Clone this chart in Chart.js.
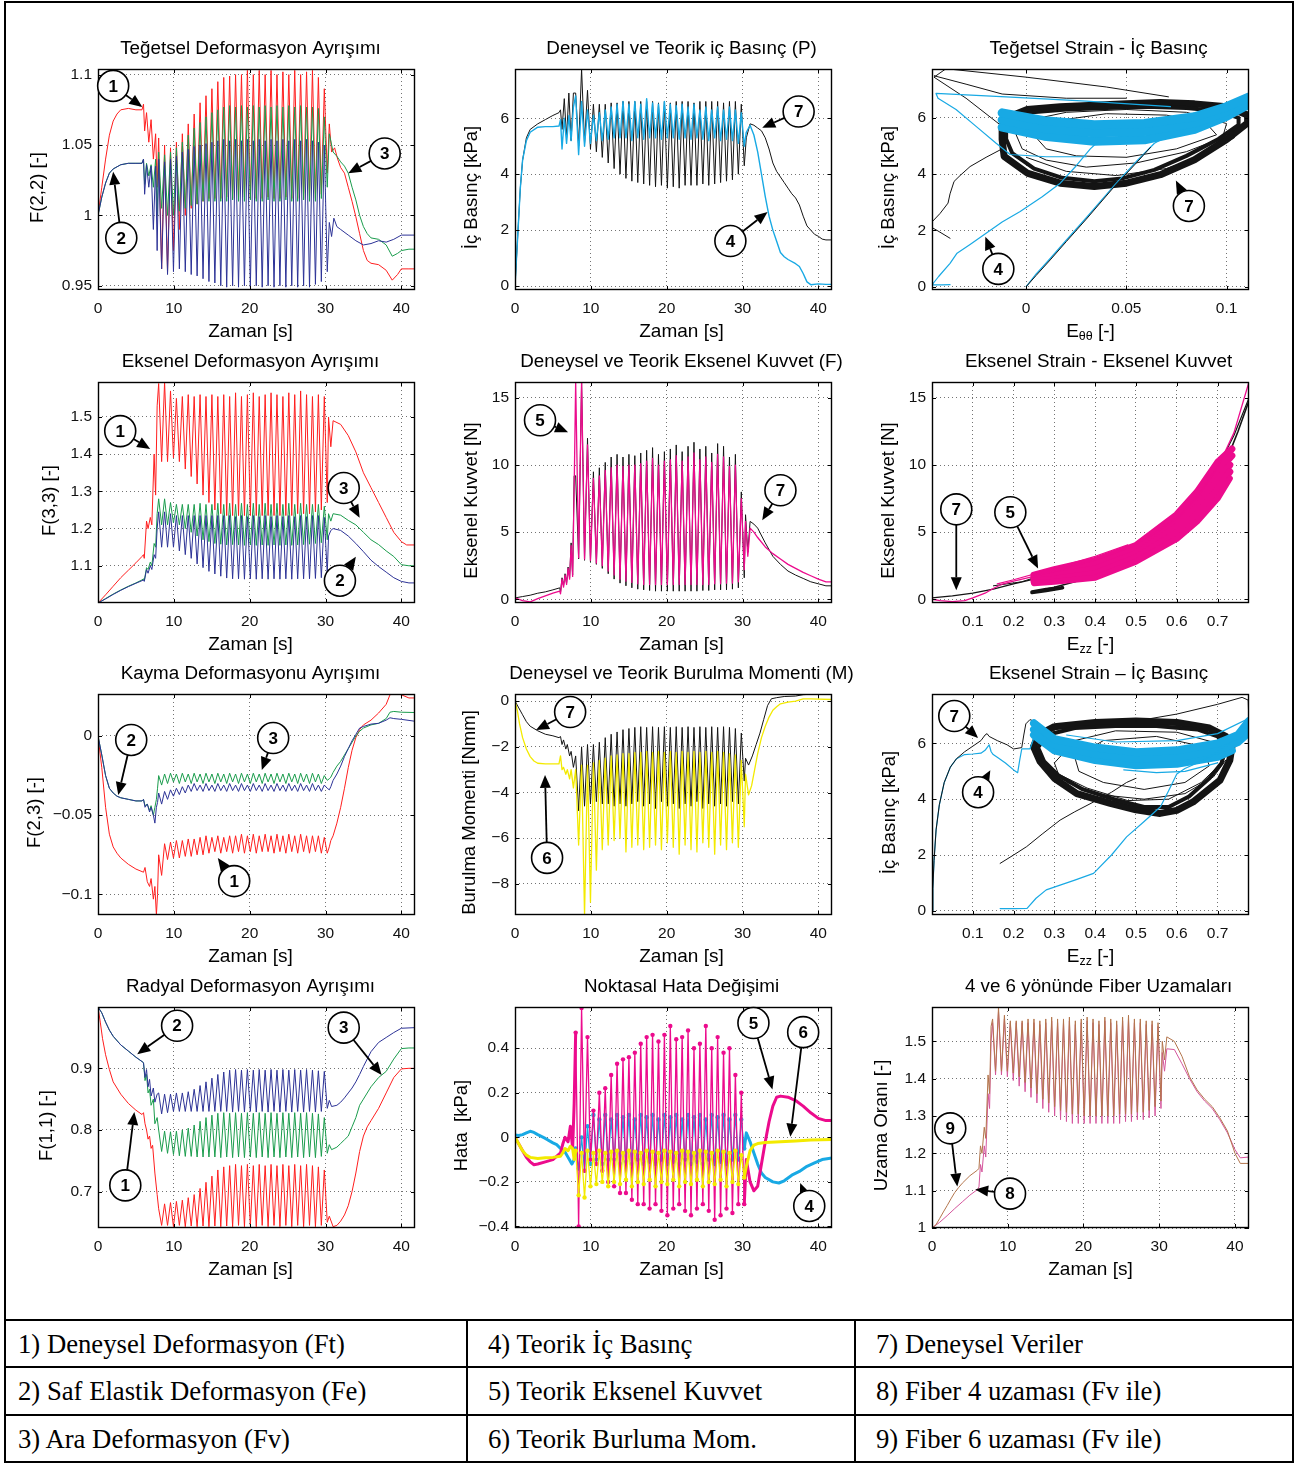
<!DOCTYPE html>
<html><head><meta charset="utf-8"><title>Deformasyon Ayrışımı</title>
<script src="https://cdn.jsdelivr.net/npm/chart.js@4.4.1/dist/chart.umd.min.js"></script>
<style>
html,body{margin:0;padding:0;background:#fff;}
#page{position:relative;width:1295px;height:1464px;overflow:hidden;background:#fff;}
#page canvas{position:absolute;}
.ln{position:absolute;background:#000;}
.cell{position:absolute;font-family:"Liberation Serif","Times New Roman",serif;font-size:26.7px;line-height:32px;height:32px;white-space:nowrap;color:#000;}
</style></head><body>
<div id="page">
<div class="ln" style="left:4px;top:1px;width:2px;height:1462px"></div>
<div class="ln" style="left:1292px;top:1px;width:2px;height:1462px"></div>
<div class="ln" style="left:4px;top:1px;width:1290px;height:2px"></div>
<div class="ln" style="left:4px;top:1461px;width:1290px;height:2px"></div>
<div class="ln" style="left:4px;top:1319px;width:1290px;height:2px"></div>
<div class="ln" style="left:4px;top:1366px;width:1290px;height:2px"></div>
<div class="ln" style="left:4px;top:1414px;width:1290px;height:2px"></div>
<div class="ln" style="left:466px;top:1319px;width:2px;height:144px"></div>
<div class="ln" style="left:854px;top:1319px;width:2px;height:144px"></div>
<div class="cell" style="left:18px;top:1328px">1) Deneysel Deformasyon (Ft)</div>
<div class="cell" style="left:488px;top:1328px">4) Teorik İç Basınç</div>
<div class="cell" style="left:876px;top:1328px">7) Deneysel Veriler</div>
<div class="cell" style="left:18px;top:1375px">2) Saf Elastik Deformasyon (Fe)</div>
<div class="cell" style="left:488px;top:1375px">5) Teorik Eksenel Kuvvet</div>
<div class="cell" style="left:876px;top:1375px">8) Fiber 4 uzaması (Fv ile)</div>
<div class="cell" style="left:18px;top:1423px">3) Ara Deformasyon (Fv)</div>
<div class="cell" style="left:488px;top:1423px">6) Teorik Burluma Mom.</div>
<div class="cell" style="left:876px;top:1423px">9) Fiber 6 uzaması (Fv ile)</div>
</div>
<script>
// ---------- shared time axis of the cyclic phase (peak, trough, peak, ...) ----------
const tOsc = [8.00,8.39,8.78,9.17,9.56,9.95,10.34,10.73,11.12,11.51,
 11.90,12.29,12.68,13.07,13.46,13.85,14.24,14.63,15.02,15.41,
 15.80,16.19,16.58,16.97,17.36,17.75,18.14,18.53,18.92,19.31,
 19.70,20.09,20.48,20.87,21.26,21.65,22.04,22.43,22.82,23.21,
 23.60,23.99,24.38,24.77,25.16,25.55,25.94,26.33,26.72,27.11,
 27.50,27.89,28.28,28.67,29.06,29.45,29.84,30.23];
const timeTicks = [0,10,20,30,40];

// ---------- Panel 1: F(2,2) ----------
const f22FtPre = [[0,1.0],[0.5,1.02],[1,1.04],[1.5,1.057],[2,1.067],[2.5,1.072],[3,1.075],[4,1.076],[5,1.075],[5.8,1.075],[6.0,1.079],[6.15,1.06],[6.4,1.073],[6.7,1.052],[7.0,1.068],[7.3,1.04],[7.6,1.058],[7.8,1.02]];
const f22FtOsc = [1.055,0.962, 1.05,0.96, 1.048,0.975, 1.052,0.99, 1.058,1.0,
 1.065,1.005, 1.072,1.008, 1.08,1.01, 1.085,1.012, 1.09,1.012,
 1.095,1.012, 1.098,1.013, 1.099,1.012, 1.1,1.012, 1.1,1.013,
 1.103,1.012, 1.1,1.012, 1.103,1.012, 1.1,1.013, 1.103,1.012,
 1.1,1.012, 1.102,1.013, 1.1,1.012, 1.103,1.012, 1.1,1.012,
 1.102,1.013, 1.103,1.012, 1.098,1.015, 1.09,1.03];
const f22FtPost = [[30.5,1.065],[30.8,1.045],[31.2,1.048],[31.6,1.04],[32,1.034],[32.5,1.03],[33,1.02],[33.5,1.01],[34,0.999],[34.5,0.987],[35,0.975],[35.5,0.968],[36,0.966],[37,0.965],[38,0.961],[38.8,0.954],[39.5,0.958],[40,0.962],[41,0.962],[41.8,0.962]];
const f22FvPre = [[0,1.0],[0.5,1.013],[1,1.023],[1.5,1.03],[2,1.033],[3,1.036],[4,1.037],[5,1.037],[5.8,1.037],[6.0,1.04],[6.15,1.022],[6.4,1.037],[6.7,1.028],[7.0,1.036],[7.3,1.02],[7.6,1.04],[7.8,1.0]];
const f22FvOsc = [1.045,1.005, 1.043,1.0, 1.045,1.0, 1.048,1.003, 1.052,1.005,
 1.057,1.007, 1.062,1.008, 1.066,1.01, 1.07,1.01, 1.073,1.01,
 1.075,1.01, 1.077,1.01, 1.078,1.011, 1.077,1.01, 1.078,1.01,
 1.077,1.011, 1.078,1.01, 1.077,1.01, 1.078,1.011, 1.077,1.01,
 1.078,1.01, 1.077,1.011, 1.078,1.01, 1.077,1.01, 1.078,1.011,
 1.077,1.01, 1.077,1.01, 1.076,1.012, 1.07,1.02];
const f22FvPost = [[30.5,1.058],[31,1.045],[31.5,1.042],[32,1.038],[32.5,1.035],[33,1.03],[33.5,1.02],[34,1.011],[34.5,1.0],[35,0.992],[35.5,0.987],[36,0.984],[37,0.983],[38,0.979],[38.8,0.971],[39.5,0.973],[40,0.975],[41,0.976],[41.8,0.976]];
const f22FePre = [[0,1.0],[0.5,1.013],[1,1.023],[1.5,1.03],[2,1.033],[3,1.036],[4,1.037],[5,1.037],[5.8,1.037],[6.0,1.04],[6.15,1.015],[6.4,1.036],[6.7,1.02],[7.0,1.035],[7.3,0.99],[7.6,1.035],[7.8,0.975]];
const f22FeOsc = [1.04,0.962, 1.038,0.958, 1.04,0.96, 1.042,0.962, 1.045,0.96,
 1.047,0.958, 1.049,0.957, 1.05,0.955, 1.051,0.953, 1.052,0.952,
 1.053,0.95, 1.054,0.949, 1.053,0.95, 1.054,0.949, 1.053,0.95,
 1.054,0.949, 1.053,0.95, 1.054,0.949, 1.053,0.95, 1.054,0.949,
 1.053,0.95, 1.054,0.949, 1.053,0.95, 1.054,0.949, 1.053,0.95,
 1.054,0.949, 1.053,0.951, 1.052,0.953, 1.05,0.96];
const f22FePost = [[30.5,0.995],[30.8,0.985],[31.1,0.998],[31.5,0.992],[32,0.99],[33,0.986],[34,0.982],[35,0.979],[36,0.98],[37,0.982],[38,0.981],[39,0.983],[40,0.986],[41.8,0.986]];
const f22Ticks = [0.95,1,1.05,1.1];

// ---------- Panel 2: pressure ----------
const pBlackPre = [[0,0],[0.3,1.5],[0.7,3.5],[1,4.5],[1.5,5.3],[2,5.6],[3,5.8],[4,5.95],[5,6.1],[5.8,6.2],[6.0,6.3],[6.2,5.6],[6.5,6.7],[6.8,5.3],[7.1,6.9],[7.4,5.2],[7.7,6.9]];
const pBlackOsc = [6.9,5.0, 7.76,5.1, 7.0,4.9, 6.5,4.8, 6.5,4.6,
 6.5,4.4, 6.55,4.2, 6.55,4.0, 6.6,3.85, 6.6,3.75,
 6.6,3.7, 6.6,3.65, 6.6,3.6, 6.6,3.55, 6.55,3.6,
 6.6,3.5, 6.55,3.55, 6.6,3.5, 6.6,3.6, 6.6,3.6,
 6.55,3.6, 6.6,3.65, 6.6,3.6, 6.6,3.65, 6.6,3.7,
 6.55,3.75, 6.6,3.8, 6.6,4.0, 6.5,4.3];
const pBlackPost = [[30.5,5.3],[31,5.8],[31.5,5.75],[32,5.65],[32.5,5.55],[33,5.3],[33.5,4.9],[34,4.4],[34.5,4.1],[35,3.9],[35.5,3.7],[36,3.5],[36.5,3.3],[37,3.15],[37.5,2.9],[38,2.5],[38.5,2.15],[39,2.0],[39.5,1.85],[40,1.78],[40.5,1.68],[41,1.65],[41.8,1.65]];
const pCyanPre = [[0,0],[0.3,1.5],[0.7,3.5],[1,4.5],[1.5,5.2],[2,5.5],[3,5.68],[4,5.7],[5,5.7],[5.8,5.72],[6.0,5.95],[6.2,4.9],[6.5,6.0],[6.8,5.1],[7.1,6.1],[7.4,5.2],[7.7,6.4]];
const pCyanOsc = [6.8,4.7, 6.6,5.0, 6.3,5.1, 6.1,5.2, 6.2,5.2,
 6.3,5.25, 6.4,5.3, 6.5,5.3, 6.6,5.3, 6.5,5.2,
 6.6,5.3, 6.5,5.25, 6.7,5.3, 6.55,5.3, 6.5,5.25,
 6.6,5.3, 6.5,5.3, 6.45,5.25, 6.5,5.3, 6.4,5.25,
 6.5,5.3, 6.3,5.25, 6.4,5.2, 6.3,5.3, 6.4,5.2,
 6.3,5.25, 6.4,5.2, 6.3,5.1, 6.2,5.0];
const pCyanPost = [[30.5,5.5],[31,5.75],[31.5,5.4],[32,4.8],[32.5,4.0],[33,3.2],[33.5,2.5],[34,2.0],[34.5,1.6],[35,1.2],[35.5,1.05],[36,0.95],[37,0.8],[37.5,0.7],[38,0.45],[38.5,0.15],[39,0.05],[40,0.08],[41,0.06],[41.8,0.06]];
const pTicks = [0,2,4,6];

// ---------- Panel 3: E_theta vs P (loops) ----------
const thBlkRing = [[-0.012,5.7],[-0.01,6.0],[0.0005,6.3],[0.017,6.4],[0.034,6.45],[0.05,6.5],[0.067,6.55],[0.084,6.5],[0.1,6.4],[0.1105,6.1],[0.1105,5.82],[0.1,5.23],[0.084,4.51],[0.067,3.98],[0.05,3.68],[0.034,3.56],[0.017,3.68],[0.0005,4.04],[-0.011,4.63],[-0.012,5.23],[-0.012,5.7]];
const thBlkRing2 = [[-0.01,5.6],[-0.007,5.95],[0.003,6.2],[0.02,6.3],[0.04,6.35],[0.06,6.4],[0.08,6.35],[0.096,6.25],[0.106,6.0],[0.106,5.75],[0.096,5.25],[0.08,4.65],[0.064,4.15],[0.048,3.85],[0.034,3.75],[0.018,3.87],[0.004,4.2],[-0.007,4.75],[-0.01,5.25],[-0.01,5.6]];
const thBlkIn1 = [[-0.005,5.4],[0.0,5.9],[0.02,6.2],[0.05,6.3],[0.08,6.2],[0.1,5.8],[0.098,5.3],[0.08,4.8],[0.055,4.4],[0.03,4.25],[0.01,4.5],[-0.002,4.9],[-0.005,5.4]];
const thBlkIn2 = [[0.005,5.3],[0.015,5.9],[0.04,6.15],[0.07,6.1],[0.09,5.8],[0.095,5.4],[0.075,4.9],[0.05,4.6],[0.025,4.65],[0.01,4.9],[0.005,5.3]];
const thBlkIn3 = [[0.0,4.6],[0.02,4.1],[0.045,3.95],[0.07,4.2],[0.09,4.7],[0.104,5.3]];
const thBlkEarly1 = [[-0.012,5.7],[-0.03,6.7],[-0.046,7.45],[-0.04,7.75],[0.0,7.45],[0.04,7.1],[0.071,6.75]];
const thBlkEarly2 = [[-0.046,7.5],[-0.03,7.2],[-0.012,6.85],[0.02,6.7],[0.05,6.7]];
const thBlkLoad = [[0,0],[0.005,0.4],[0.012,0.95],[0.02,1.6],[0.03,2.4],[0.044,3.56],[0.055,4.4],[0.062,4.95]];
const thBlkUnload1 = [[-0.012,4.9],[-0.02,4.6],[-0.028,4.27],[-0.033,3.95],[-0.036,3.74],[-0.038,3.3],[-0.039,2.97],[-0.043,2.6],[-0.047,2.3]];
const thBlkUnload2 = [[-0.047,2.1],[-0.0445,2.0],[-0.041,1.85],[-0.038,1.72]];
const thCyLoad = [[0,0],[0.005,0.45],[0.012,1.0],[0.02,1.65],[0.03,2.45],[0.044,3.6],[0.055,4.45],[0.064,5.1],[0.072,5.4]];
const thCyEarly = [[0.072,6.4],[0.03,6.6],[-0.01,6.75],[-0.045,6.87],[-0.044,6.7],[-0.035,6.3],[-0.025,5.7],[-0.015,5.1],[-0.008,4.7],[0.01,4.62],[0.03,4.62]];
const thCyArcA = [[-0.012,5.67],[0.009,5.35],[0.034,5.17],[0.059,5.22],[0.084,5.59],[0.1,6.06],[0.111,6.48]];
const thCyArcB = [[-0.012,5.93],[0.009,5.62],[0.034,5.47],[0.059,5.52],[0.084,5.82],[0.1,6.24],[0.111,6.62]];
const thCyArcC = [[-0.012,6.18],[0.009,5.9],[0.034,5.76],[0.059,5.8],[0.084,6.04],[0.1,6.4],[0.111,6.74]];
const thCyUnload = [[0.035,5.1],[0.032,4.9],[0.025,4.3],[0.017,3.68],[0.008,3.2],[-0.003,2.67],[-0.012,2.3],[-0.02,1.9],[-0.028,1.5],[-0.0345,1.19],[-0.038,0.83],[-0.0437,0.36],[-0.047,0.06],[-0.042,0.06],[-0.038,0.07]];
const thXTicks = [0,0.05,0.1];

// ---------- Panel 4: F(3,3) ----------
const f33FtPre = [[0,1.0],[1,1.022],[2,1.045],[3,1.068],[4,1.088],[5,1.108],[5.8,1.125],[6.0,1.13],[6.1,1.12],[6.4,1.22],[6.6,1.2],[6.9,1.23],[7.1,1.21],[7.4,1.4],[7.6,1.29],[7.8,1.53]];
const f33FtOsc = [1.59,1.38, 1.594,1.38, 1.57,1.39, 1.55,1.38, 1.555,1.36,
 1.56,1.34, 1.555,1.32, 1.56,1.29, 1.555,1.27, 1.56,1.25,
 1.555,1.24, 1.56,1.235, 1.555,1.235, 1.565,1.235, 1.555,1.235,
 1.56,1.235, 1.565,1.235, 1.555,1.235, 1.56,1.235, 1.565,1.235,
 1.56,1.235, 1.555,1.235, 1.565,1.235, 1.56,1.24, 1.57,1.24,
 1.56,1.24, 1.555,1.245, 1.56,1.25, 1.555,1.27];
const f33FtPost = [[30.4,1.5],[30.7,1.42],[31,1.49],[32,1.48],[33,1.45],[34,1.406],[35,1.35],[36,1.31],[37,1.27],[38,1.23],[38.5,1.21],[39,1.19],[40,1.165],[40.7,1.156],[41.8,1.156]];
const f33FvPre = [[0,1.0],[1,1.012],[2,1.024],[3,1.035],[4,1.045],[5,1.054],[5.8,1.062],[6.0,1.065],[6.1,1.06],[6.4,1.095],[6.6,1.09],[6.9,1.11],[7.1,1.1],[7.4,1.16],[7.6,1.15],[7.8,1.24]];
const f33FvOsc = [1.28,1.21, 1.28,1.21, 1.27,1.215, 1.265,1.21, 1.265,1.2,
 1.265,1.19, 1.265,1.18, 1.268,1.17, 1.265,1.165, 1.265,1.16,
 1.268,1.158, 1.265,1.156, 1.268,1.157, 1.265,1.156, 1.268,1.155,
 1.265,1.156, 1.268,1.155, 1.265,1.156, 1.268,1.155, 1.265,1.156,
 1.268,1.155, 1.265,1.156, 1.268,1.155, 1.265,1.156, 1.268,1.157,
 1.265,1.158, 1.265,1.16, 1.265,1.162, 1.26,1.17];
const f33FvPost = [[30.4,1.24],[30.7,1.22],[31,1.24],[32,1.236],[33,1.222],[34,1.21],[35,1.19],[36,1.17],[37,1.157],[38,1.14],[39,1.125],[40,1.103],[41,1.1],[41.8,1.1]];
const f33FePre = [[0,1.0],[1,1.011],[2,1.023],[3,1.034],[4,1.044],[5,1.053],[5.8,1.06],[6.0,1.062],[6.1,1.058],[6.4,1.09],[6.6,1.08],[6.9,1.1],[7.1,1.09],[7.4,1.13],[7.6,1.12],[7.8,1.2]];
const f33FeOsc = [1.245,1.15, 1.245,1.15, 1.24,1.15, 1.235,1.14, 1.235,1.13,
 1.235,1.12, 1.235,1.105, 1.235,1.095, 1.235,1.085, 1.235,1.078,
 1.235,1.072, 1.235,1.067, 1.235,1.065, 1.232,1.065, 1.235,1.064,
 1.232,1.065, 1.235,1.064, 1.232,1.065, 1.235,1.064, 1.232,1.065,
 1.235,1.064, 1.232,1.065, 1.235,1.064, 1.232,1.065, 1.235,1.065,
 1.232,1.065, 1.235,1.066, 1.235,1.068, 1.23,1.08];
const f33FePost = [[30.4,1.18],[30.7,1.195],[31,1.2],[32,1.195],[33,1.18],[34,1.16],[35,1.138],[36,1.115],[37,1.098],[38,1.083],[39,1.068],[40,1.058],[41,1.054],[41.8,1.054]];
const f33Ticks = [1.1,1.2,1.3,1.4,1.5];

// ---------- Panel 5: axial force ----------
const fBlackPre = [[0,0.1],[1,0.2],[2,0.3],[3,0.45],[4,0.55],[5,0.7],[5.9,0.85],[6.0,0.5],[6.2,1.6],[6.4,1.0],[6.6,1.9],[6.8,1.2],[7.0,2.4],[7.2,1.6],[7.4,4.2],[7.6,1.8],[7.8,9.2]];
const fBlackOsc = [9.2,3.0, 16.2,2.9, 12.0,2.8, 9.5,2.6, 9.8,2.3,
 10.2,1.9, 10.6,1.5, 10.8,1.2, 10.6,1.0, 10.8,0.85,
 10.7,0.75, 10.9,0.7, 11.1,0.65, 11.3,0.6, 10.8,0.6,
 11.0,0.6, 11.2,0.6, 11.5,0.6, 11.0,0.6, 11.4,0.6,
 11.7,0.6, 11.2,0.65, 11.4,0.65, 10.9,0.7, 11.6,0.7,
 11.4,0.7, 10.6,0.75, 10.8,0.85, 8.0,1.6];
const fBlackPost = [[30.4,6.3],[30.7,3.5],[31,5.8],[31.5,5.6],[32,5.3],[33,4.2],[34,3.2],[35,2.6],[36,2.1],[37,1.8],[38,1.55],[39,1.3],[40,1.15],[41,1.0],[41.8,1.0]];
const fMagPre = [[0,0.1],[1,-0.1],[2,-0.2],[3,0.05],[4,0.25],[5,0.45],[5.9,0.6],[6.0,0.4],[6.2,1.5],[6.4,0.9],[6.6,1.8],[6.8,1.1],[7.0,2.3],[7.2,1.5],[7.4,4.0],[7.6,1.7],[7.8,8.2]];
const fMagOsc = [16.2,3.1, 16.2,3.0, 11.5,2.9, 9.0,2.7, 9.2,2.5,
 9.6,2.1, 9.8,1.8, 10.0,1.5, 9.9,1.35, 10.0,1.25,
 10.0,1.15, 10.1,1.1, 10.3,1.1, 10.5,1.1, 10.0,1.1,
 10.3,1.1, 10.4,1.1, 10.7,1.1, 10.3,1.1, 10.6,1.1,
 10.9,1.1, 10.4,1.1, 10.6,1.1, 10.2,1.15, 10.8,1.15,
 10.6,1.2, 9.9,1.2, 10.0,1.3, 7.5,2.2];
const fMagPost = [[30.4,5.8],[30.7,3.2],[31,5.3],[31.5,5.0],[32,4.6],[33,3.9],[34,3.4],[35,3.0],[36,2.6],[37,2.3],[38,2.0],[39,1.75],[40,1.5],[41,1.3],[41.8,1.3]];
const fTicks = [0,5,10,15];

// ---------- Panel 6: E_zz vs axial force ----------
const ezfBlkLoad = [[0,0.1],[0.05,0.25],[0.1,0.45],[0.15,0.75],[0.2,1.15],[0.25,1.5],[0.3,1.95],[0.35,2.4],[0.4,2.9],[0.45,3.5],[0.5,4.15],[0.55,5.0],[0.6,6.1],[0.65,7.6],[0.7,9.8],[0.74,12.2],[0.777,15.0]];
const ezfBlkLower = [[0.777,14.8],[0.75,12.5],[0.72,10.2],[0.7,9.0],[0.65,6.9],[0.6,5.3],[0.55,4.0],[0.5,3.0],[0.45,2.3],[0.4,1.8],[0.35,1.3],[0.3,0.9],[0.25,0.55]];
const ezfBlkPatch = [[0.245,0.5],[0.28,0.65],[0.32,0.85],[0.28,0.72],[0.245,0.55]];
const ezfBlkEarly = [[0.15,1.0],[0.22,1.3],[0.3,2.1],[0.4,3.0],[0.48,3.9]];
const ezfMagLoad = [[0,0],[0.02,-0.1],[0.05,-0.18],[0.08,-0.1],[0.1,0.1],[0.13,0.45],[0.15,0.8],[0.17,1.1],[0.2,1.35],[0.25,1.7],[0.3,2.1],[0.35,2.5],[0.4,2.95],[0.45,3.5],[0.5,4.1],[0.55,5.0],[0.6,6.0],[0.65,7.6],[0.7,9.8],[0.74,12.4],[0.777,16.2]];
const ezfMagEarly = [[0.16,1.15],[0.2,1.45],[0.3,2.3],[0.4,3.2],[0.48,4.05]];
const ezfMag1 = [[0.25,1.8],[0.3,2.2],[0.4,2.9],[0.5,4.0],[0.6,6.3],[0.65,8.0],[0.7,10.2],[0.735,11.2]];
const ezfMag2 = [[0.25,1.65],[0.3,2.0],[0.4,2.6],[0.5,3.7],[0.6,5.85],[0.65,7.45],[0.7,9.5],[0.735,10.7]];
const ezfMag3 = [[0.25,1.5],[0.3,1.75],[0.4,2.25],[0.5,3.4],[0.6,5.4],[0.65,6.9],[0.7,8.85],[0.73,10.0]];
const ezfMag4 = [[0.25,1.35],[0.3,1.5],[0.4,1.9],[0.5,3.1],[0.6,4.95],[0.65,6.35],[0.7,8.2],[0.73,9.5]];
const ezfMag5 = [[0.25,1.2],[0.3,1.3],[0.4,1.6],[0.5,2.8],[0.6,4.5],[0.65,5.8],[0.7,7.5],[0.73,9.0]];
const ezTicks = [0.1,0.2,0.3,0.4,0.5,0.6,0.7];

// ---------- Panel 7: F(2,3) ----------
const f23FtPre = [[0,0],[0.5,-0.02],[1,-0.045],[1.5,-0.062],[2,-0.07],[2.5,-0.074],[3,-0.077],[4,-0.081],[5,-0.084],[6,-0.086],[6.2,-0.083],[6.5,-0.092],[6.8,-0.095],[7.0,-0.09],[7.3,-0.103],[7.5,-0.095],[7.7,-0.113],[7.85,-0.1]];
const f23FtOsc = [-0.075,-0.088, -0.068,-0.078, -0.067,-0.077, -0.066,-0.077, -0.066,-0.076,
 -0.065,-0.076, -0.065,-0.075, -0.064,-0.075, -0.063,-0.074, -0.064,-0.073,
 -0.063,-0.074, -0.064,-0.073, -0.063,-0.074, -0.063,-0.073, -0.062,-0.074,
 -0.063,-0.073, -0.062,-0.074, -0.063,-0.073, -0.062,-0.073, -0.063,-0.074,
 -0.062,-0.073, -0.063,-0.074, -0.062,-0.073, -0.063,-0.074, -0.062,-0.073,
 -0.063,-0.074, -0.063,-0.073, -0.063,-0.074, -0.064,-0.074];
const f23FtPost = [[30.5,-0.07],[30.7,-0.066],[31,-0.063],[31.5,-0.055],[32,-0.045],[32.5,-0.033],[33,-0.02],[33.5,-0.009],[34,-0.001],[34.5,0.004],[35,0.007],[36,0.01],[37,0.0145],[38,0.02],[38.5,0.026],[39,0.027],[40,0.026],[41,0.024],[41.8,0.024]];
const f23FvPre = [[0,0],[0.5,-0.012],[1,-0.025],[1.5,-0.033],[2,-0.036],[2.5,-0.038],[3,-0.039],[4,-0.04],[5,-0.041],[5.8,-0.041],[6,-0.04],[6.2,-0.044],[6.5,-0.043],[6.8,-0.047],[7.0,-0.044],[7.3,-0.05],[7.5,-0.045],[7.7,-0.04],[7.85,-0.033]];
const f23FvOsc = [-0.025,-0.031, -0.024,-0.030, -0.0235,-0.029, -0.024,-0.030, -0.0235,-0.029,
 -0.024,-0.030, -0.0235,-0.029, -0.024,-0.030, -0.0235,-0.029, -0.024,-0.030,
 -0.0235,-0.029, -0.024,-0.030, -0.0235,-0.029, -0.024,-0.030, -0.0235,-0.029,
 -0.024,-0.030, -0.0235,-0.029, -0.024,-0.030, -0.0235,-0.029, -0.024,-0.030,
 -0.0235,-0.029, -0.024,-0.030, -0.0235,-0.029, -0.024,-0.030, -0.0235,-0.029,
 -0.024,-0.030, -0.0235,-0.029, -0.024,-0.030, -0.025,-0.028];
const f23FvPost = [[30.5,-0.027],[30.7,-0.026],[31,-0.023],[31.5,-0.019],[32,-0.016],[32.5,-0.012],[33,-0.008],[33.5,-0.004],[34,0.0],[34.5,0.003],[35,0.005],[36,0.007],[37,0.008],[38,0.011],[38.5,0.015],[39,0.0155],[40,0.015],[41.8,0.0148]];
const f23FePre = [[0,0],[0.5,-0.012],[1,-0.025],[1.5,-0.033],[2,-0.036],[2.5,-0.038],[3,-0.039],[4,-0.04],[5,-0.041],[5.8,-0.041],[6,-0.04],[6.2,-0.045],[6.5,-0.043],[6.8,-0.048],[7.0,-0.045],[7.3,-0.05],[7.5,-0.055],[7.7,-0.045],[7.85,-0.042]];
const f23FeOsc = [-0.036,-0.043, -0.035,-0.040, -0.034,-0.038, -0.033,-0.037, -0.032,-0.036,
 -0.031,-0.035, -0.030,-0.0345, -0.031,-0.035, -0.030,-0.0345, -0.031,-0.035,
 -0.030,-0.0345, -0.031,-0.035, -0.030,-0.0345, -0.031,-0.035, -0.030,-0.0345,
 -0.031,-0.035, -0.030,-0.0345, -0.031,-0.035, -0.030,-0.0345, -0.031,-0.035,
 -0.030,-0.0345, -0.031,-0.035, -0.030,-0.0345, -0.031,-0.035, -0.030,-0.0345,
 -0.031,-0.035, -0.030,-0.0345, -0.031,-0.035, -0.031,-0.033];
const f23FePost = [[30.5,-0.034],[30.7,-0.032],[31,-0.028],[31.5,-0.024],[32,-0.019],[32.5,-0.013],[33,-0.008],[33.5,-0.003],[34,0.001],[34.5,0.005],[35,0.006],[36,0.0075],[37,0.008],[38,0.01],[38.5,0.0115],[39,0.011],[40,0.0105],[41.8,0.0093]];
const f23Ticks = [-0.1,-0.05,0];

// ---------- Panel 8: torsion moment ----------
const mBlackPre = [[0,0],[0.5,-0.3],[1,-0.6],[1.5,-0.9],[2,-1.1],[3,-1.3],[4,-1.45],[5,-1.52],[5.8,-1.6],[6.0,-1.55],[6.2,-1.9],[6.4,-1.7],[6.7,-2.1],[6.9,-1.9],[7.2,-2.4],[7.4,-2.2],[7.7,-2.9]];
const mBlackOsc = [-2.4,-4.8, -2.0,-4.6, -1.9,-4.5, -1.9,-4.4, -1.8,-4.5,
 -1.6,-4.5, -1.45,-4.6, -1.35,-4.5, -1.25,-4.6, -1.2,-4.5,
 -1.15,-4.4, -1.12,-4.6, -1.15,-4.5, -1.12,-4.7, -1.15,-4.4,
 -1.12,-4.6, -1.15,-4.5, -1.12,-4.7, -1.15,-4.5, -1.12,-4.6,
 -1.15,-4.4, -1.12,-4.7, -1.15,-4.5, -1.12,-4.6, -1.15,-4.5,
 -1.12,-4.6, -1.15,-4.4, -1.2,-4.5, -1.4,-3.5];
const mBlackPost = [[30.4,-2.5],[30.8,-2.8],[31.3,-2.4],[31.8,-1.9],[32.3,-1.4],[32.8,-0.8],[33.3,-0.2],[33.8,0.1],[34.5,0.15],[35.5,0.2],[37,0.22],[38,0.28],[39,0.3],[41.8,0.3]];
const mYelPre = [[0,0],[0.3,-0.4],[0.6,-1.0],[1,-1.6],[1.5,-2.1],[2,-2.43],[2.5,-2.62],[3,-2.72],[4,-2.75],[5,-2.75],[5.8,-2.75],[6.0,-2.4],[6.2,-3.0],[6.4,-2.9],[6.7,-3.2],[6.9,-3.0],[7.2,-3.4],[7.4,-3.0],[7.7,-3.8]];
const mYelOsc = [-3.0,-6.3, -2.8,-9.36, -2.8,-8.8, -2.7,-7.4, -2.6,-6.5,
 -2.5,-6.3, -2.4,-6.1, -2.35,-6.0, -2.3,-6.6, -2.3,-6.4,
 -2.25,-6.3, -2.25,-6.5, -2.2,-6.4, -2.25,-6.3, -2.2,-6.5,
 -2.25,-6.2, -2.2,-6.4, -2.25,-6.7, -2.2,-6.3, -2.25,-6.5,
 -2.2,-6.6, -2.25,-6.2, -2.2,-6.4, -2.25,-6.7, -2.2,-6.3,
 -2.25,-6.5, -2.3,-6.2, -2.35,-6.4, -2.6,-5.5];
const mYelPost = [[30.4,-3.2],[30.8,-4.1],[31.2,-3.7],[31.6,-3.0],[32,-2.3],[32.5,-1.6],[33,-1.1],[33.5,-0.7],[34,-0.4],[34.5,-0.25],[35,-0.12],[36,-0.05],[37,0.0],[38,0.1],[39,0.1],[41.8,0.07]];
const mTicks = [-8,-6,-4,-2,0];

// ---------- Panel 9: E_zz vs P (loops) ----------
const ezBlkRing = [[0.249,5.88],[0.26,6.3],[0.3,6.6],[0.4,6.75],[0.5,6.8],[0.6,6.75],[0.68,6.55],[0.72,6.25],[0.735,5.86],[0.73,5.4],[0.706,4.68],[0.64,3.9],[0.6,3.6],[0.559,3.49],[0.5,3.62],[0.437,3.85],[0.355,4.2],[0.3,4.75],[0.265,5.35],[0.249,5.88]];
const ezBlkRing2 = [[0.26,5.85],[0.28,6.3],[0.35,6.55],[0.45,6.62],[0.55,6.62],[0.65,6.5],[0.7,6.25],[0.72,5.85],[0.71,5.3],[0.68,4.75],[0.63,4.1],[0.58,3.72],[0.52,3.72],[0.45,3.98],[0.37,4.35],[0.31,4.85],[0.275,5.35],[0.26,5.85]];
const ezBlkIn1 = [[0.3,5.3],[0.35,6.1],[0.45,6.45],[0.6,6.4],[0.7,6.0],[0.71,5.3],[0.66,4.6],[0.58,4.0],[0.48,3.95],[0.38,4.4],[0.31,4.9],[0.3,5.3]];
const ezBlkIn2 = [[0.35,5.5],[0.42,6.1],[0.55,6.25],[0.66,5.9],[0.68,5.2],[0.62,4.6],[0.52,4.35],[0.42,4.6],[0.36,5.0],[0.35,5.5]];
const ezBlkIn3 = [[0.33,4.6],[0.42,4.15],[0.52,4.0],[0.62,4.2],[0.69,4.8],[0.72,5.4]];
const ezBlkTop = [[0.5,6.8],[0.6,7.05],[0.7,7.4],[0.76,7.65],[0.775,7.55],[0.777,6.6],[0.76,6.3]];
const ezBlkUnload = [[0.5,4.75],[0.477,4.6],[0.44,4.25],[0.396,3.9],[0.35,3.55],[0.314,3.25],[0.27,2.75],[0.232,2.3],[0.2,2.0],[0.167,1.7]];
const ezBlkLoad = [[0,0],[0.002,0.8],[0.005,1.8],[0.01,2.9],[0.018,3.8],[0.03,4.6],[0.045,5.15],[0.06,5.45],[0.08,5.7],[0.1,5.9],[0.12,6.1],[0.13,6.3],[0.135,6.35],[0.14,6.25],[0.16,6.1],[0.184,5.95],[0.2,5.8],[0.22,5.85],[0.225,6.3],[0.23,6.7],[0.24,6.85],[0.26,6.75],[0.255,6.2],[0.249,5.88]];
const ezCyLoad = [[0,0],[0.002,0.8],[0.005,1.8],[0.01,2.9],[0.018,3.8],[0.03,4.6],[0.045,5.15],[0.06,5.45],[0.08,5.6],[0.1,5.62],[0.12,5.65],[0.13,5.75],[0.14,5.95],[0.145,5.7],[0.15,5.6],[0.16,5.5],[0.18,5.3],[0.2,5.05],[0.21,4.95],[0.215,5.4],[0.22,5.8],[0.24,5.8],[0.25,6.2],[0.249,6.72]];
const ezCyThin1 = [[0.33,6.3],[0.45,6.05],[0.6,6.1],[0.7,6.35],[0.777,6.9]];
const ezCyThin2 = [[0.47,5.05],[0.55,4.95],[0.62,5.0],[0.7,5.3]];
const ezCyArcA = [[0.25,6.3],[0.3,5.75],[0.4,5.4],[0.5,5.22],[0.6,5.27],[0.7,5.52],[0.735,5.75]];
const ezCyArcB = [[0.25,6.5],[0.3,5.95],[0.4,5.62],[0.5,5.45],[0.6,5.5],[0.7,5.75],[0.75,6.05],[0.777,6.4]];
const ezCyArcC = [[0.25,6.72],[0.3,6.15],[0.4,5.85],[0.5,5.68],[0.6,5.75],[0.7,6.0],[0.75,6.3],[0.777,6.8]];
const ezCyUnload = [[0.73,6.0],[0.68,5.5],[0.62,5.1],[0.6,4.9],[0.58,4.3],[0.56,3.73],[0.52,3.2],[0.477,2.65],[0.44,2.0],[0.396,1.34],[0.35,1.1],[0.314,0.92],[0.28,0.75],[0.255,0.45],[0.233,0.09],[0.2,0.08],[0.167,0.08]];

// ---------- Panel 10: F(1,1) ----------
const f11FtPre = [[0,0.9995],[0.3,0.975],[0.6,0.948],[1,0.922],[1.5,0.898],[2,0.878],[3,0.858],[4,0.843],[5,0.832],[5.8,0.825],[6.0,0.828],[6.2,0.81],[6.4,0.8],[6.6,0.785],[6.8,0.79],[7.0,0.77],[7.2,0.775],[7.5,0.73],[7.8,0.695]];
const f11FtOsc = [0.672,0.645, 0.68,0.645, 0.682,0.643, 0.684,0.645, 0.686,0.643,
 0.69,0.644, 0.695,0.643, 0.705,0.644, 0.715,0.643, 0.725,0.644,
 0.735,0.643, 0.74,0.644, 0.742,0.643, 0.744,0.645, 0.742,0.643,
 0.744,0.645, 0.742,0.643, 0.744,0.645, 0.742,0.643, 0.744,0.645,
 0.742,0.643, 0.744,0.645, 0.742,0.643, 0.744,0.645, 0.742,0.643,
 0.744,0.645, 0.742,0.643, 0.74,0.645, 0.735,0.65];
const f11FtPost = [[30.5,0.66],[31,0.643],[31.5,0.645],[32,0.652],[32.5,0.662],[33,0.677],[33.5,0.7],[34,0.73],[34.5,0.765],[35,0.79],[35.5,0.805],[36,0.815],[37,0.835],[38,0.86],[39,0.885],[40,0.899],[41,0.9],[41.8,0.9]];
const f11FvPre = [[0,0.9995],[0.5,0.99],[1,0.975],[1.5,0.962],[2,0.952],[3,0.938],[4,0.928],[5,0.918],[5.8,0.911],[6.0,0.909],[6.2,0.88],[6.4,0.89],[6.6,0.86],[6.8,0.866],[7.0,0.84],[7.3,0.85],[7.5,0.81],[7.8,0.82]];
const f11FvOsc = [0.8,0.765, 0.798,0.762, 0.797,0.76, 0.798,0.758, 0.8,0.757,
 0.803,0.757, 0.808,0.756, 0.814,0.756, 0.82,0.756, 0.824,0.756,
 0.827,0.755, 0.828,0.756, 0.827,0.755, 0.828,0.756, 0.827,0.755,
 0.828,0.756, 0.827,0.755, 0.828,0.756, 0.827,0.755, 0.828,0.756,
 0.827,0.755, 0.828,0.756, 0.827,0.755, 0.828,0.756, 0.827,0.755,
 0.828,0.756, 0.827,0.755, 0.826,0.757, 0.82,0.762];
const f11FvPost = [[30.5,0.776],[30.8,0.768],[31.5,0.772],[32,0.778],[32.5,0.784],[33,0.79],[33.5,0.805],[34,0.82],[34.5,0.84],[35,0.85],[36,0.87],[37,0.885],[38,0.895],[39,0.915],[40,0.932],[41,0.933],[41.8,0.933]];
const f11FePre = [[0,0.9995],[0.5,0.99],[1,0.975],[1.5,0.962],[2,0.952],[3,0.938],[4,0.928],[5,0.918],[5.8,0.911],[6.0,0.909],[6.2,0.885],[6.4,0.898],[6.6,0.87],[6.8,0.882],[7.0,0.855],[7.3,0.868],[7.5,0.845],[7.8,0.858]];
const f11FeOsc = [0.86,0.826, 0.858,0.828, 0.858,0.83, 0.86,0.83, 0.86,0.83,
 0.862,0.83, 0.866,0.83, 0.872,0.83, 0.878,0.83, 0.884,0.83,
 0.89,0.83, 0.894,0.83, 0.897,0.829, 0.898,0.83, 0.897,0.829,
 0.898,0.83, 0.897,0.829, 0.898,0.83, 0.897,0.829, 0.898,0.83,
 0.897,0.829, 0.898,0.83, 0.897,0.829, 0.898,0.83, 0.897,0.829,
 0.898,0.83, 0.897,0.829, 0.896,0.83, 0.895,0.835];
const f11FePost = [[30.5,0.848],[30.8,0.838],[31.5,0.84],[32,0.845],[32.5,0.852],[33,0.86],[33.5,0.868],[34,0.878],[34.5,0.89],[35,0.903],[35.5,0.915],[36,0.927],[37,0.942],[38,0.95],[39,0.958],[40,0.965],[41.8,0.966]];
const f11Ticks = [0.7,0.8,0.9];

// ---------- Panel 11: point-wise error ----------
const ePPre = [[0,0.01],[0.5,0.008],[1,0.012],[1.5,0.02],[2,0.027],[2.5,0.022],[3,0.012],[4,-0.005],[5,-0.025],[5.5,-0.033],[6,-0.05],[6.5,-0.06],[7,-0.09],[7.5,-0.12],[7.8,-0.1]];
const ePOsc = [-0.05,-0.14, 0.0,-0.15, 0.05,-0.12, 0.1,-0.1, 0.08,-0.12,
 0.1,-0.1, 0.08,-0.1, 0.1,-0.12, 0.09,-0.11, 0.1,-0.12,
 0.08,-0.1, 0.1,-0.12, 0.09,-0.11, 0.1,-0.12, 0.08,-0.1,
 0.1,-0.12, 0.09,-0.11, 0.1,-0.12, 0.08,-0.1, 0.1,-0.12,
 0.09,-0.11, 0.1,-0.12, 0.08,-0.1, 0.1,-0.12, 0.09,-0.11,
 0.1,-0.12, 0.08,-0.1, 0.1,-0.1, 0.08,-0.05];
const ePPost = [[30.5,0.02],[31,-0.02],[31.5,-0.07],[32,-0.12],[32.5,-0.16],[33,-0.18],[34,-0.2],[34.8,-0.205],[35.5,-0.195],[36.5,-0.17],[37.5,-0.153],[38.5,-0.13],[39.5,-0.115],[40.5,-0.1],[41.8,-0.093]];
const eFPre = [[0,0],[0.5,-0.03],[1,-0.06],[1.5,-0.09],[2,-0.11],[2.5,-0.123],[3,-0.12],[4,-0.11],[5,-0.1],[6,-0.07],[6.3,-0.03],[6.6,0.0],[7.0,-0.02],[7.3,0.05],[7.6,-0.05],[7.8,0.15]];
const eFOsc = [0.47,-0.4, 0.58,-0.15, 0.45,-0.1, 0.12,-0.12, 0.2,-0.15,
 0.22,-0.2, 0.28,-0.22, 0.33,-0.25, 0.35,-0.25, 0.36,-0.28,
 0.38,-0.3, 0.42,-0.3, 0.45,-0.32, 0.46,-0.3, 0.43,-0.33,
 0.46,-0.35, 0.5,-0.32, 0.44,-0.3, 0.45,-0.33, 0.48,-0.35,
 0.4,-0.32, 0.42,-0.3, 0.5,-0.33, 0.4,-0.37, 0.45,-0.35,
 0.38,-0.32, 0.4,-0.34, 0.28,-0.3, 0.2,-0.3];
const eFPost = [[30.5,-0.1],[31,-0.2],[31.5,-0.24],[32,-0.22],[32.5,-0.12],[33,-0.02],[33.5,0.07],[34,0.14],[34.5,0.18],[35,0.185],[36,0.18],[37,0.165],[38,0.14],[39,0.11],[40,0.085],[41,0.075],[41.8,0.075]];
const eMPre = [[0,0],[0.5,-0.03],[1,-0.06],[1.5,-0.08],[2,-0.09],[3,-0.095],[4,-0.092],[5,-0.09],[6,-0.085],[6.3,-0.07],[6.6,-0.05],[7.0,-0.06],[7.3,-0.04],[7.6,-0.05],[7.8,-0.1]];
const eMOsc = [-0.06,-0.26, -0.07,-0.27, -0.06,-0.22, -0.07,-0.21, -0.06,-0.2,
 -0.07,-0.22, -0.065,-0.2, -0.06,-0.21, -0.07,-0.19, -0.06,-0.22,
 -0.065,-0.2, -0.07,-0.21, -0.06,-0.19, -0.065,-0.22, -0.07,-0.2,
 -0.06,-0.21, -0.065,-0.19, -0.07,-0.22, -0.06,-0.2, -0.065,-0.21,
 -0.07,-0.19, -0.06,-0.22, -0.065,-0.2, -0.07,-0.21, -0.06,-0.19,
 -0.065,-0.22, -0.07,-0.2, -0.06,-0.21, -0.08,-0.18];
const eMPost = [[30.5,-0.13],[31,-0.06],[31.5,-0.035],[32,-0.028],[33,-0.023],[35,-0.02],[37,-0.016],[39,-0.012],[41.8,-0.01]];
const eTicks = [-0.4,-0.2,0,0.2,0.4];

// ---------- Panel 12: fibre stretches ----------
const lam4Pre = [[0,1.0],[1,1.015],[2,1.033],[3,1.052],[4,1.07],[5,1.088],[6,1.103],[6.2,1.11],[6.4,1.17],[6.6,1.15],[6.9,1.22],[7.1,1.19],[7.4,1.36],[7.6,1.32],[7.8,1.5]];
const lam4Osc = [1.55,1.41, 1.58,1.41, 1.56,1.405, 1.55,1.395, 1.55,1.38,
 1.55,1.365, 1.55,1.35, 1.55,1.335, 1.545,1.32, 1.55,1.31,
 1.555,1.3, 1.55,1.29, 1.55,1.285, 1.555,1.28, 1.545,1.28,
 1.55,1.28, 1.555,1.28, 1.55,1.28, 1.545,1.28, 1.555,1.28,
 1.55,1.28, 1.545,1.28, 1.555,1.285, 1.56,1.285, 1.55,1.29,
 1.55,1.29, 1.545,1.295, 1.545,1.3, 1.54,1.32];
const lam4Post = [[30.4,1.47],[30.7,1.42],[31,1.48],[32,1.478],[33,1.44],[34,1.4],[35,1.365],[36,1.34],[37,1.32],[38,1.29],[39,1.255],[40,1.21],[40.7,1.188],[41.8,1.19]];
const lam6Pre = [[0,1.0],[0.5,1.008],[1,1.025],[1.5,1.043],[2,1.06],[2.5,1.078],[3,1.095],[3.5,1.108],[4,1.12],[5,1.14],[6,1.155],[6.2,1.16],[6.4,1.22],[6.6,1.2],[6.9,1.27],[7.1,1.24],[7.4,1.41],[7.6,1.36],[7.8,1.54]];
const lam6Osc = [1.56,1.42, 1.592,1.42, 1.57,1.42, 1.555,1.415, 1.555,1.405,
 1.555,1.39, 1.56,1.375, 1.56,1.36, 1.555,1.345, 1.56,1.335,
 1.565,1.325, 1.56,1.315, 1.56,1.31, 1.565,1.305, 1.555,1.305,
 1.56,1.3, 1.565,1.3, 1.56,1.3, 1.555,1.3, 1.565,1.3,
 1.56,1.3, 1.555,1.305, 1.565,1.305, 1.57,1.305, 1.56,1.31,
 1.56,1.31, 1.555,1.315, 1.555,1.325, 1.55,1.34];
const lam6Post = [[30.4,1.5],[30.7,1.45],[31,1.512],[32,1.5],[33,1.46],[34,1.405],[35,1.37],[36,1.345],[37,1.325],[38,1.295],[39,1.26],[40,1.2],[40.7,1.173],[41.8,1.173]];
const lamTicks = [1,1.1,1.2,1.3,1.4,1.5];

// ---------- numbered callouts: [label, circleX, circleY, arrowTipX, arrowTipY] (data units) ----------
const co1 = [['1',2.0,1.092,5.84,1.077],['2',3.07,0.984,2.0,1.031],['3',37.8,1.044,33.0,1.030]];
const co2 = [['7',37.4,6.24,32.6,5.66],['4',28.4,1.61,33.3,2.65]];
const co3 = [['7',0.0812,2.87,0.0747,3.77],['4',-0.0139,0.63,-0.0204,1.77]];
const co4 = [['1',2.93,1.462,6.88,1.414],['3',32.4,1.309,34.5,1.229],['2',31.9,1.06,34.0,1.124]];
const co5 = [['5',3.3,13.34,7.0,12.44],['7',35.0,8.12,32.6,5.89]];
const co6 = [['7',0.0595,6.7,0.0595,0.67],['5',0.192,6.48,0.26,2.3]];
const co7 = [['2',4.38,-0.0025,2.67,-0.0373],['3',23.1,-0.0013,21.6,-0.0215],['1',17.96,-0.0916,15.8,-0.077]];
const co8 = [['7',7.27,-0.48,2.77,-1.27],['6',4.23,-6.86,3.96,-3.23]];
const co9 = [['7',0.0546,6.98,0.113,6.19],['4',0.113,4.25,0.143,5.04]];
const co10 = [['2',10.43,0.969,5.17,0.923],['3',32.4,0.966,37.4,0.889],['1',3.6,0.71,4.79,0.829]];
const co11 = [['5',31.44,0.513,33.95,0.215],['6',38.0,0.472,36.3,0.003],['4',38.8,-0.308,37.6,-0.205]];
const co12 = [['9',2.41,1.267,3.34,1.111],['8',10.3,1.092,5.7,1.103]];

// ---------- rendering ----------
const FONT = '"Liberation Sans", Arial, Helvetica, sans-serif';
const RED='#ff1e1e', GREEN='#1a9c4c', BLUE='#2c3296', BLACK='#141414', CYAN='#18a9e4', MAG='#ec0b8d', YEL='#f3ea00', BROWN='#b3754c', PINK='#d4559c';
Chart.defaults.font.family = FONT;

const page = document.getElementById('page');
const oscCheck = {f22FtOsc,f22FvOsc,f22FeOsc,pBlackOsc,pCyanOsc,f33FtOsc,f33FvOsc,f33FeOsc,fBlackOsc,fMagOsc,f23FtOsc,f23FvOsc,f23FeOsc,mBlackOsc,mYelOsc,f11FtOsc,f11FvOsc,f11FeOsc,ePOsc,eFOsc,eMOsc,lam4Osc,lam6Osc};
const bad = Object.entries(oscCheck).filter(e => e[1].length !== tOsc.length).map(e => e[0]+':'+e[1].length);
if (bad.length) { const d = document.createElement('div'); d.style.cssText='position:absolute;left:300px;top:1290px;color:red;font:16px sans-serif'; d.textContent='LEN '+bad.join(' '); page.appendChild(d); }

function pts(a){ return a.map(p => ({x:p[0], y:p[1]})); }
function series(pre, osc, post){
  const n = Math.min(osc.length, tOsc.length);
  const mid = [];
  for (let i = 0; i < n; i++) mid.push({x:tOsc[i], y:osc[i], o:1});
  return pts(pre).concat(mid, pts(post));
}
function fmtTick(v){ const s = String(Math.round(v*1e6)/1e6); return s.replace('-', '\u2212'); }

const TITLE_DX = [-6, 8, 8], XT_DX = [-6, 8, 0];

const decor = {
  id:'decor',
  afterDraw(chart, _args, o){
    if (!o || !o.title) return;
    const ctx = chart.ctx, a = chart.chartArea, xs = chart.scales.x, ys = chart.scales.y;
    ctx.save();
    // inward tick marks on all four sides
    ctx.strokeStyle = '#000'; ctx.lineWidth = 1; ctx.setLineDash([]);
    ctx.beginPath();
    xs.ticks.forEach(t => { const p = Math.round(xs.getPixelForValue(t.value)) + 0.5; ctx.moveTo(p, a.bottom); ctx.lineTo(p, a.bottom - 4); ctx.moveTo(p, a.top); ctx.lineTo(p, a.top + 4); });
    ys.ticks.forEach(t => { const p = Math.round(ys.getPixelForValue(t.value)) + 0.5; ctx.moveTo(a.left, p); ctx.lineTo(a.left + 4, p); ctx.moveTo(a.right, p); ctx.lineTo(a.right - 4, p); });
    ctx.stroke();
    // box
    ctx.lineWidth = 1.4;
    ctx.strokeRect(Math.round(a.left) + 0.5, Math.round(a.top) + 0.5, Math.round(a.right - a.left) - 1, Math.round(a.bottom - a.top) - 1);
    // title
    ctx.fillStyle = '#000'; ctx.textAlign = 'center'; ctx.textBaseline = 'middle';
    ctx.font = '18.8px ' + FONT;
    ctx.fillText(o.title, (a.left + a.right) / 2 + o.tdx, a.top - 20);
    // x title (with optional subscript parts)
    let total = 0;
    o.xTitle.forEach(p => { ctx.font = (p[1] ? '12.5px ' : '19px ') + FONT; total += ctx.measureText(p[0]).width; });
    let x = (a.left + a.right) / 2 + o.xdx - total / 2; const y0 = a.bottom + 42;
    ctx.textAlign = 'left';
    o.xTitle.forEach(p => { ctx.font = (p[1] ? '12.5px ' : '19px ') + FONT; ctx.fillText(p[0], x, p[1] ? y0 + 5 : y0); x += ctx.measureText(p[0]).width; });
    // y title
    ctx.save();
    ctx.translate(a.left - o.yOff, (a.top + a.bottom) / 2 + 8); ctx.rotate(-Math.PI / 2);
    ctx.textAlign = 'center'; ctx.font = '18.5px ' + FONT; ctx.fillText(o.yTitle, 0, 0);
    ctx.restore();
    // callouts
    (o.callouts || []).forEach(c => {
      const X = xs.getPixelForValue(c[1]), Y = ys.getPixelForValue(c[2]);
      const TX = xs.getPixelForValue(c[3]), TY = ys.getPixelForValue(c[4]);
      const r = 15.5, dx = TX - X, dy = TY - Y, d = Math.hypot(dx, dy) || 1, ux = dx / d, uy = dy / d;
      const hl = 13, hw = 5.5;
      const bx = TX - ux * hl, by = TY - uy * hl;
      ctx.strokeStyle = '#000'; ctx.fillStyle = '#000'; ctx.lineWidth = 1.8;
      ctx.beginPath(); ctx.moveTo(X + ux * r, Y + uy * r); ctx.lineTo(bx, by); ctx.stroke();
      ctx.beginPath(); ctx.moveTo(TX, TY); ctx.lineTo(bx - uy * hw, by + ux * hw); ctx.lineTo(bx + uy * hw, by - ux * hw); ctx.closePath(); ctx.fill();
      ctx.beginPath(); ctx.arc(X, Y, r, 0, Math.PI * 2); ctx.fillStyle = '#fff'; ctx.fill(); ctx.lineWidth = 1.6; ctx.stroke();
      ctx.fillStyle = '#000'; ctx.font = 'bold 17px ' + FONT; ctx.textAlign = 'center'; ctx.textBaseline = 'middle';
      ctx.fillText(c[0], X, Y + 1);
    });
    ctx.restore();
  }
};
Chart.register(decor);

function axis(r, t, isX){
  return {
    type:'linear', min:r[0], max:r[1],
    afterBuildTicks: s => { s.ticks = t.map(v => ({value:v})); },
    afterFit: isX ? (s => { s.height = 52; }) : (s => { s.width = 70; }),
    grid:{ color:'rgba(0,0,0,0.55)', lineWidth:1, drawTicks:false },
    border:{ display:false, dash:[1,3] },
    ticks:{ autoSkip:false, maxRotation:0, minRotation:0, padding: isX ? 9 : 6, color:'#111', font:{size:15.5}, callback: v => fmtTick(v) }
  };
}

const COLX = [8, 425, 842], ROWY = [29, 342, 654, 967];
const CANVAS_W = 447, CANVAS_H = 313;
const TZ = [['Zaman [s]', 0]];
const ETH = [['E', 0], ['\u03b8\u03b8', 1], [' [-]', 0]];
const EZZ = [['E', 0], ['zz', 1], [' [-]', 0]];
const TR = [0, 41.8];

function dotsOnly(c){ const d = c.dataset.data[c.dataIndex]; return d && d.o ? 2.2 : 0; }
function segW(c){ const ds = c.chart.data.datasets[c.datasetIndex].data; const a = ds[c.p0DataIndex], b = ds[c.p1DataIndex]; return (a && b && a.o && b.o) ? 1.3 : 3; }

const panels = [
 { title:'Teğetsel Deformasyon Ayrışımı', xt:TZ, yt:'F(2,2) [-]', yOff:60, xr:TR, yr:[0.947,1.104], xk:timeTicks, yk:f22Ticks, co:co1,
   ds:[{d:series(f22FtPre,f22FtOsc,f22FtPost),c:RED},{d:series(f22FvPre,f22FvOsc,f22FvPost),c:GREEN},{d:series(f22FePre,f22FeOsc,f22FePost),c:BLUE}] },
 { title:'Deneysel ve Teorik iç Basınç (P)', xt:TZ, yt:'İç Basınç [kPa]', yOff:43, xr:TR, yr:[-0.14,7.76], xk:timeTicks, yk:pTicks, co:co2,
   ds:[{d:series(pBlackPre,pBlackOsc,pBlackPost),c:BLACK},{d:series(pCyanPre,pCyanOsc,pCyanPost),c:CYAN,w:1.4}] },
 { title:'Teğetsel Strain - İç Basınç', xt:ETH, yt:'İç Basınç [kPa]', yOff:43, xr:[-0.047,0.1112], yr:[-0.12,7.74], xk:thXTicks, yk:pTicks, co:co3,
   ds:[{d:pts(thBlkRing),c:BLACK,w:7},{d:pts(thBlkRing2),c:BLACK,w:4},{d:pts(thBlkIn1),c:BLACK},{d:pts(thBlkIn2),c:BLACK},{d:pts(thBlkIn3),c:BLACK},
       {d:pts(thBlkEarly1),c:BLACK},{d:pts(thBlkEarly2),c:BLACK},{d:pts(thBlkUnload1),c:BLACK},{d:pts(thBlkUnload2),c:BLACK},
       {d:pts(thCyLoad),c:CYAN,w:1.2},{d:pts(thBlkLoad),c:BLACK},{d:pts(thCyEarly),c:CYAN,w:1.2},
       {d:pts(thCyArcA),c:CYAN,w:9},{d:pts(thCyArcB),c:CYAN,w:9},{d:pts(thCyArcC),c:CYAN,w:9},{d:pts(thCyUnload),c:CYAN,w:1.2}] },
 { title:'Eksenel Deformasyon Ayrışımı', xt:TZ, yt:'F(3,3) [-]', yOff:48, xr:TR, yr:[1.0,1.594], xk:timeTicks, yk:f33Ticks, co:co4,
   ds:[{d:series(f33FtPre,f33FtOsc,f33FtPost),c:RED},{d:series(f33FvPre,f33FvOsc,f33FvPost),c:GREEN},{d:series(f33FePre,f33FeOsc,f33FePost),c:BLUE}] },
 { title:'Deneysel ve Teorik Eksenel Kuvvet (F)', xt:TZ, yt:'Eksenel Kuvvet [N]', yOff:43, xr:TR, yr:[-0.28,16.19], xk:timeTicks, yk:fTicks, co:co5,
   ds:[{d:series(fBlackPre,fBlackOsc,fBlackPost),c:BLACK},{d:series(fMagPre,fMagOsc,fMagPost),c:MAG,w:1.3}] },
 { title:'Eksenel Strain - Eksenel Kuvvet', xt:EZZ, yt:'Eksenel Kuvvet [N]', yOff:43, xr:[0,0.777], yr:[-0.28,16.19], xk:ezTicks, yk:fTicks, co:co6,
   ds:[{d:pts(ezfBlkLoad),c:BLACK,w:1.2},{d:pts(ezfBlkLower),c:BLACK,w:1.6},{d:pts(ezfBlkPatch),c:BLACK,w:3.5},{d:pts(ezfBlkEarly),c:BLACK},
       {d:pts(ezfMag1),c:MAG,w:7},{d:pts(ezfMag2),c:MAG,w:7},{d:pts(ezfMag3),c:MAG,w:7},{d:pts(ezfMag4),c:MAG,w:7},{d:pts(ezfMag5),c:MAG,w:6},
       {d:pts(ezfMagLoad),c:MAG,w:1.3},{d:pts(ezfMagEarly),c:MAG,w:1.2}] },
 { title:'Kayma Deformasyonu Ayrışımı', xt:TZ, yt:'F(2,3) [-]', yOff:63, xr:TR, yr:[-0.113,0.0265], xk:timeTicks, yk:f23Ticks, co:co7,
   ds:[{d:series(f23FtPre,f23FtOsc,f23FtPost),c:RED},{d:series(f23FvPre,f23FvOsc,f23FvPost),c:GREEN},{d:series(f23FePre,f23FeOsc,f23FePost),c:BLUE}] },
 { title:'Deneysel ve Teorik Burulma Momenti (M)', xt:TZ, yt:'Burulma Momenti [Nmm]', yOff:45, xr:TR, yr:[-9.36,0.31], xk:timeTicks, yk:mTicks, co:co8,
   ds:[{d:series(mBlackPre,mBlackOsc,mBlackPost),c:BLACK},{d:series(mYelPre,mYelOsc,mYelPost),c:YEL,w:1.3}] },
 { title:'Eksenel Strain \u2013 İç Basınç', xt:EZZ, yt:'İç Basınç [kPa]', yOff:42, xr:[0,0.777], yr:[-0.15,7.77], xk:ezTicks, yk:pTicks, co:co9,
   ds:[{d:pts(ezBlkRing),c:BLACK,w:7},{d:pts(ezBlkRing2),c:BLACK,w:4},{d:pts(ezBlkIn1),c:BLACK},{d:pts(ezBlkIn2),c:BLACK},{d:pts(ezBlkIn3),c:BLACK},
       {d:pts(ezBlkTop),c:BLACK},{d:pts(ezBlkUnload),c:BLACK},{d:pts(ezCyLoad),c:CYAN,w:1.2},{d:pts(ezBlkLoad),c:BLACK},
       {d:pts(ezCyThin1),c:CYAN,w:1.2},{d:pts(ezCyThin2),c:CYAN,w:1.2},
       {d:pts(ezCyArcA),c:CYAN,w:8},{d:pts(ezCyArcB),c:CYAN,w:8},{d:pts(ezCyArcC),c:CYAN,w:8},{d:pts(ezCyUnload),c:CYAN,w:1.2}] },
 { title:'Radyal Deformasyon Ayrışımı', xt:TZ, yt:'F(1,1) [-]', yOff:51, xr:TR, yr:[0.6408,0.9995], xk:timeTicks, yk:f11Ticks, co:co10,
   ds:[{d:series(f11FtPre,f11FtOsc,f11FtPost),c:RED},{d:series(f11FvPre,f11FvOsc,f11FvPost),c:GREEN},{d:series(f11FePre,f11FeOsc,f11FePost),c:BLUE}] },
 { title:'Noktasal Hata Değişimi', xt:TZ, yt:'Hata  [kPa]', yOff:53, xr:TR, yr:[-0.407,0.585], xk:timeTicks, yk:eTicks, co:co11,
   ds:[{d:series(ePPre,ePOsc,ePPost),c:CYAN,dots:true},{d:series(eFPre,eFOsc,eFPost),c:MAG,dots:true},{d:series(eMPre,eMOsc,eMPost),c:YEL,dots:true}] },
 { title:'4 ve 6 yönünde Fiber Uzamaları', xt:TZ, yt:'Uzama Oranı [-]', yOff:50, xr:[0,41.85], yr:[1.0,1.592], xk:timeTicks, yk:lamTicks, co:co12,
   ds:[{d:series(lam4Pre,lam4Osc,lam4Post),c:PINK},{d:series(lam6Pre,lam6Osc,lam6Post),c:BROWN}] }
];

panels.forEach((p, i) => {
  const col = i % 3;
  const cv = document.createElement('canvas');
  cv.width = CANVAS_W; cv.height = CANVAS_H;
  cv.style.left = COLX[col] + 'px'; cv.style.top = ROWY[Math.floor(i / 3)] + 'px';
  cv.style.width = CANVAS_W + 'px'; cv.style.height = CANVAS_H + 'px';
  page.appendChild(cv);
  new Chart(cv, {
    type:'line',
    data:{ datasets: p.ds.map((d, k) => {
      const o = { data:d.d, borderColor:d.c, backgroundColor:d.c, borderWidth:d.w || 1, pointRadius:0, pointHoverRadius:0,
        tension:0, fill:false, order:-k, borderJoinStyle:'round', borderCapStyle:'round' };
      if (d.dots) { o.pointRadius = dotsOnly; o.pointBorderWidth = 0; o.segment = { borderWidth: segW }; o.borderWidth = 1.3; }
      return o; }) },
    options:{
      responsive:false, animation:false, devicePixelRatio:1, events:[],
      layout:{ padding:{ left:20, top:40, right:CANVAS_W - 407, bottom:0 } },
      plugins:{ legend:{display:false}, tooltip:{enabled:false},
        decor:{ title:p.title, xTitle:p.xt, yTitle:p.yt, yOff:p.yOff, callouts:p.co, tdx:TITLE_DX[col], xdx:XT_DX[col] } },
      scales:{ x:axis(p.xr, p.xk, true), y:axis(p.yr, p.yk, false) }
    }
  });
});
</script>
</body></html>
